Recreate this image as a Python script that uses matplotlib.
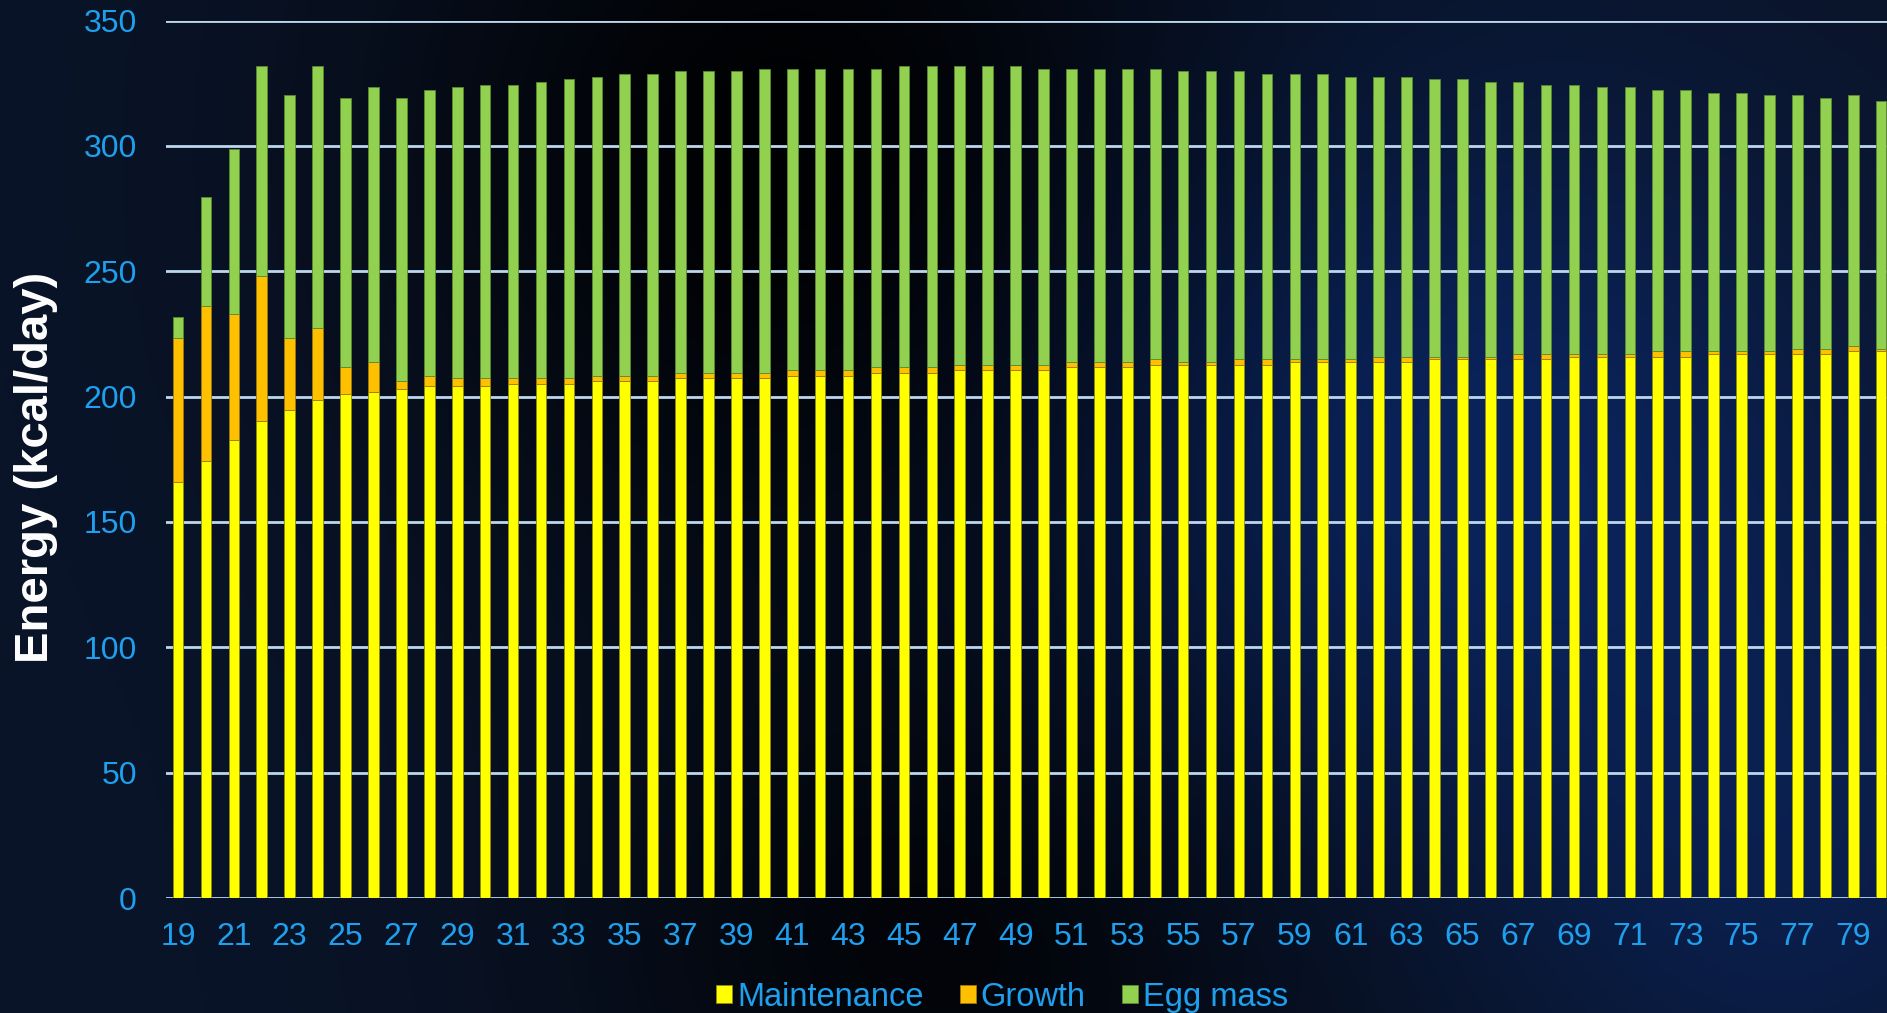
import matplotlib
matplotlib.use("Agg")
import matplotlib.pyplot as plt
import numpy as np

# weekly energy partition of a laying hen (kcal/day)
weeks = list(range(19, 81))
maintenance = [166.0, 174.5, 182.8, 190.3, 194.7, 198.8, 200.9, 201.9, 203.2, 204.3,
               204.3, 204.3, 205.2, 205.2, 205.2, 206.3, 206.3, 206.3, 207.3, 207.3,
               207.3, 207.3, 208.4, 208.4, 208.4, 209.4, 209.4, 209.4, 210.5, 210.5,
               210.5, 210.5, 211.6, 211.6, 211.6, 212.6, 212.6, 212.6, 212.6, 212.6,
               213.7, 213.7, 213.7, 213.7, 213.7, 214.8, 214.8, 214.8, 214.8, 214.8,
               215.8, 215.8, 215.8, 215.8, 215.8, 216.9, 216.9, 216.9, 216.9, 216.9,
               218.0, 218.0]
growth = [57.3, 61.5, 50.0, 57.7, 28.6, 28.7, 10.7, 11.8, 3.2, 4.1,
          3.0, 3.0, 2.1, 2.1, 2.1, 2.1, 2.1, 2.1, 2.1, 2.1,
          2.1, 2.1, 2.1, 2.1, 2.1, 2.2, 2.2, 2.2, 2.1, 2.1,
          2.1, 2.1, 2.1, 2.1, 2.1, 2.2, 1.1, 1.1, 2.2, 2.2,
          1.1, 1.1, 1.1, 2.1, 2.1, 1.0, 1.0, 1.0, 2.1, 2.1,
          1.1, 1.1, 1.1, 2.2, 2.2, 1.1, 1.1, 1.1, 2.1, 2.1,
          2.1, 1.0]
egg_mass = [8.5, 43.7, 65.9, 83.8, 96.8, 104.3, 107.4, 109.6, 112.6, 113.8,
            116.0, 117.0, 117.0, 118.1, 119.2, 119.1, 120.2, 120.2, 120.3, 120.3,
            120.3, 121.3, 120.2, 120.2, 120.2, 119.1, 120.2, 120.2, 119.2, 119.2,
            119.2, 118.1, 117.0, 117.0, 117.0, 115.9, 116.0, 116.0, 114.9, 113.8,
            113.8, 113.8, 112.7, 111.7, 111.7, 110.7, 110.7, 109.6, 108.5, 107.4,
            107.4, 106.4, 106.4, 104.2, 104.2, 103.1, 103.1, 102.1, 101.1, 100.0,
            100.0, 99.0]
yticks = [0, 50, 100, 150, 200, 250, 300, 350]
xticks = list(range(19, 80, 2))

W, H = 1887, 1013
fig = plt.figure(figsize=(W / 100, H / 100), dpi=100)
plt.rcParams['font.family'] = ['Liberation Sans', 'DejaVu Sans']

# starry-night style backdrop: dark navy with a black core and blue glow at right
bg = fig.add_axes([0, 0, 1, 1])
gx, gy = np.meshgrid(np.linspace(0, 1, 480), np.linspace(0, 1, 260))
def blob(cx, cy, sx, sy):
    return np.exp(-(((gx - cx) / sx) ** 2 + ((gy - cy) / sy) ** 2))
base = np.array([0.04, 0.08, 0.16])
img = np.ones(gy.shape + (3,)) * base
dark = np.clip(blob(0.42, 0.15, 0.22, 0.45) + 0.8 * blob(0.5, 0.95, 0.2, 0.3), 0, 1)
blue = np.clip(blob(0.78, 0.45, 0.2, 0.35) + 0.6 * blob(0.95, 0.85, 0.15, 0.3), 0, 1)
img = img * (1 - 0.95 * dark[..., None])
img = img + blue[..., None] * np.array([0.0, 0.06, 0.2])
img = np.clip(img, 0, 1)
bg.imshow(img, aspect='auto', extent=[0, 1, 1, 0])
bg.set_axis_off()

ax = fig.add_axes([166 / W, 1 - 898 / H, (W - 166) / W, (898 - 20.5) / H])
ax.set_facecolor('none')

w = 0.38
bottom2 = [m + g for m, g in zip(maintenance, growth)]
b1 = ax.bar(weeks, maintenance, w, color='#FFFF00', edgecolor='#8c8c10', linewidth=0.6,
            label='Maintenance', zorder=3)
b2 = ax.bar(weeks, growth, w, bottom=maintenance, color='#FFC000', edgecolor='#9c7a10',
            linewidth=0.6, label='Growth', zorder=3)
b3 = ax.bar(weeks, egg_mass, w, bottom=bottom2, color='#92D050', edgecolor='#5a8a30',
            linewidth=0.6, label='Egg mass', zorder=3)

ax.set_xlim(18.57, 80.21)
ax.set_ylim(0, 350)
ax.set_yticks(yticks)
ax.set_xticks(xticks)
ax.yaxis.grid(True, color='#BDD7EE', linewidth=2.0, zorder=1)
ax.set_axisbelow(True)
for s in ax.spines.values():
    s.set_visible(False)
ax.tick_params(axis='both', length=0, labelsize=23)
ax.tick_params(axis='y', pad=21)
ax.tick_params(axis='x', pad=17)
for lbl in ax.get_xticklabels() + ax.get_yticklabels():
    lbl.set_color('#1EA0EE')

fig.text(36 / W, 1 - 467 / H, 'Energy (kcal/day)', rotation=90, color='white',
         fontsize=34, fontweight='bold', ha='center', va='center')

leg = fig.legend(handles=[b1, b2, b3], loc='center', bbox_to_anchor=(1002 / W, 1 - 997 / H),
                 ncol=3, frameon=False, fontsize=23.5, handlelength=0.5, handleheight=0.5,
                 handletextpad=0.15, columnspacing=1.1, borderpad=0)
for t in leg.get_texts():
    t.set_color('#1EA0EE')

fig.savefig('out.png', dpi=100)
